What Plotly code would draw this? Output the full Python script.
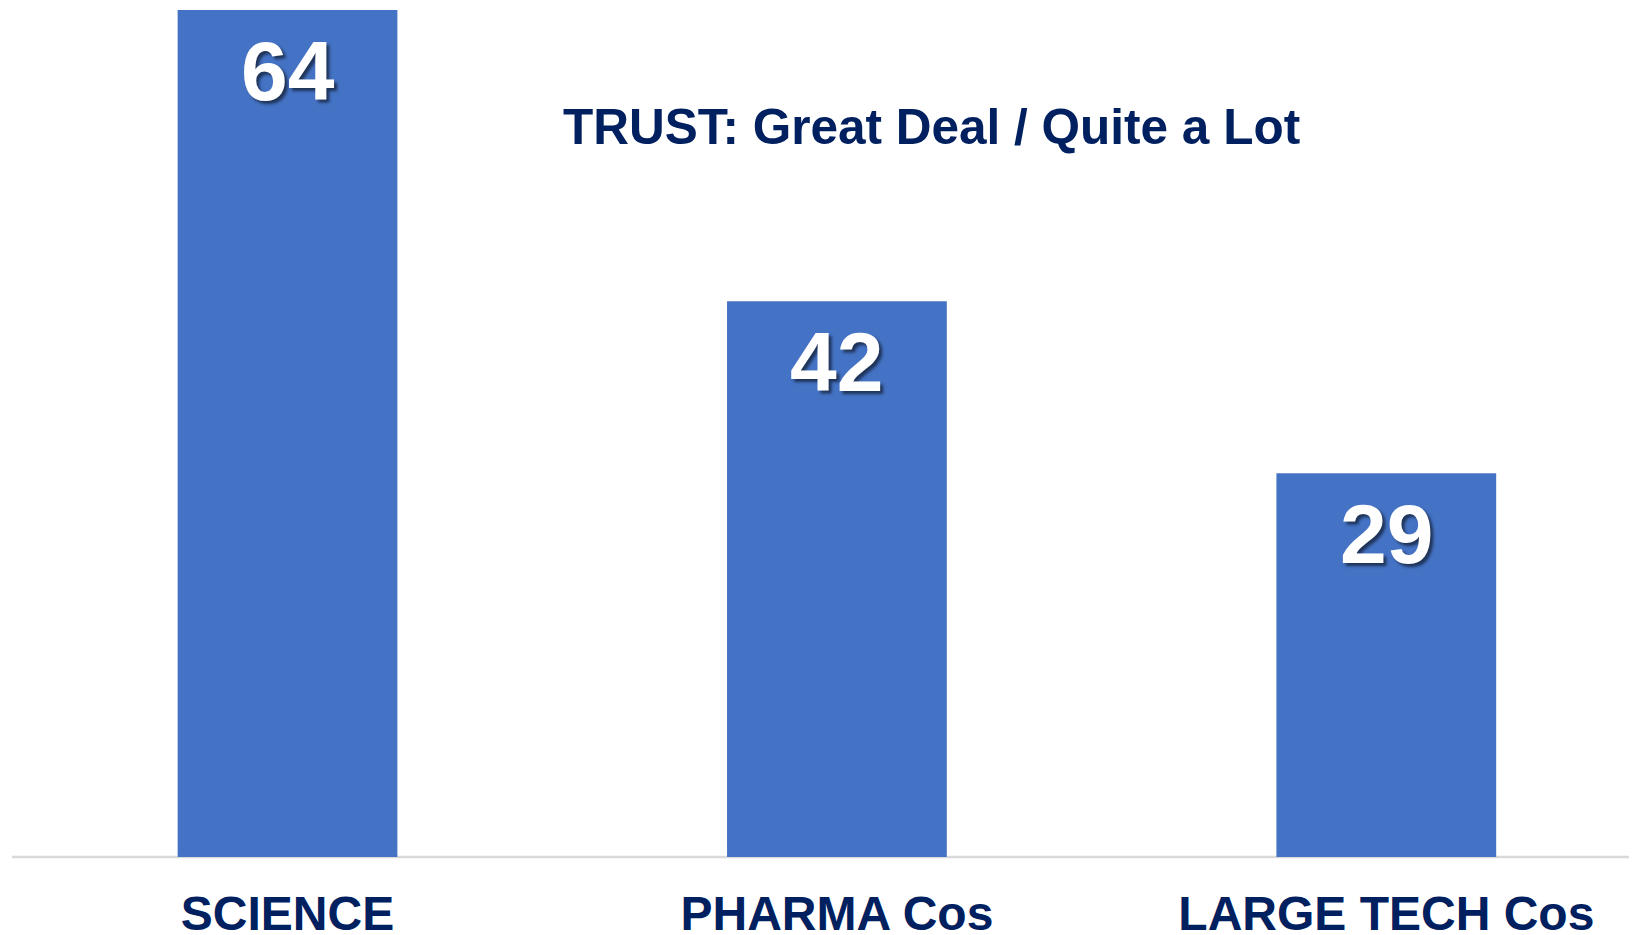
import plotly.graph_objects as go

categories = ["SCIENCE", "PHARMA Cos", "LARGE TECH Cos"]
values = [64, 42, 29]
title_text = "TRUST: Great Deal / Quite a Lot"

BAR = "#4472C4"
NAVY = "#002060"
FONT = "Arial, Liberation Sans, Arial, sans-serif"

fig = go.Figure()
fig.add_trace(go.Bar(
    x=categories, y=values,
    marker=dict(color=BAR, line=dict(width=0)),
    hoverinfo="skip",
))

for c, v in zip(categories, values):
    fig.add_annotation(
        x=c, y=v, xref="x", yref="y",
        text=f"<b>{v}</b>", showarrow=False,
        yanchor="middle", yshift=-61,
        font=dict(family=FONT, size=84, color="white",
                  shadow="3px 3px 3px rgba(0,0,0,0.55)"),
    )

# title position in paper coords (plot area: x 4..1629, y 0..849.5)
fig.add_annotation(
    x=(923.5 - 4) / 1625, y=0.86, xref="paper", yref="paper",
    text=f"<b>{title_text}</b>", showarrow=False,
    xanchor="center", yanchor="middle",
    font=dict(family=FONT, size=49.5, color=NAVY),
)

# baseline axis line, extended to the right page edge
fig.add_shape(
    type="line", xref="paper", yref="paper",
    x0=0, x1=1.05, y0=0, y1=0,
    line=dict(color="#D9D9D9", width=2.5),
    layer="below",
)

fig.update_layout(
    width=1629, height=935,
    margin=dict(l=4, r=0, t=0, b=85.5, autoexpand=False),
    paper_bgcolor="white", plot_bgcolor="white",
    bargap=0.6, showlegend=False,
    xaxis=dict(
        range=[-0.5015, 2.4563], showgrid=False, zeroline=False,
        showline=False,
        ticks="", tickfont=dict(family=FONT, size=48, color=NAVY),
        ticklabelstandoff=24, automargin=False,
    ),
    yaxis=dict(
        range=[0, 64.151], visible=False, showgrid=False, zeroline=False,
        automargin=False,
    ),
)
fig.update_xaxes(tickvals=categories, ticktext=[f"<b>{c}</b>" for c in categories])

fig.write_html("out.html")
